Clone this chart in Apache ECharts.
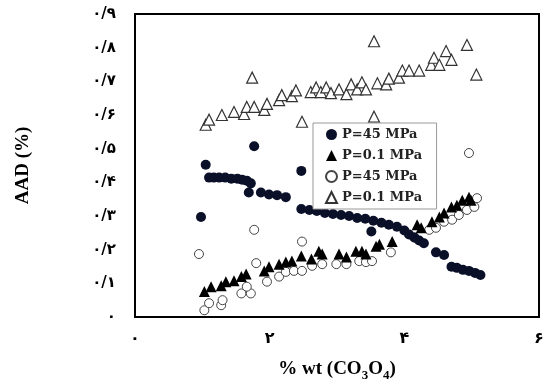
<!DOCTYPE html>
<html>
<head>
<meta charset="utf-8">
<script src="https://cdn.jsdelivr.net/npm/echarts@6/dist/echarts.min.js"></script>
<style>
  html, body { margin: 0; padding: 0; background: #fff; }
  #aad-chart { width: 547px; height: 387px; }
</style>
</head>
<body>
<div id="aad-chart"></div>
<script>
// tick labels (Persian digits, as in the figure)
var xTickLabels = ['۰', '۲', '۴', '۶'];
var yTickLabels = ['۰', '۰/۱', '۰/۲', '۰/۳', '۰/۴', '۰/۵', '۰/۶', '۰/۷', '۰/۸', '۰/۹'];

var legendNames = ['P=45 MPa', 'P=0.1 MPa', 'P=45 MPa ', 'P=0.1 MPa '];

// filled circles, P=45 MPa
var circlesFilled = [
    [1.05, 0.452], [1.77, 0.507], [0.98, 0.297], [2.47, 0.434],
    [1.10, 0.414], [1.17, 0.414], [1.25, 0.414], [1.34, 0.414], [1.43, 0.411],
    [1.52, 0.411], [1.59, 0.408], [1.66, 0.405], [1.72, 0.397], [1.69, 0.370],
    [1.87, 0.370], [1.99, 0.364], [2.11, 0.362], [2.24, 0.356],
    [2.47, 0.321], [2.59, 0.318], [2.70, 0.315], [2.82, 0.309], [2.94, 0.306],
    [3.06, 0.303], [3.18, 0.300], [3.30, 0.294], [3.42, 0.292], [3.54, 0.286],
    [3.66, 0.280], [3.77, 0.274], [3.89, 0.268], [4.00, 0.257], [3.51, 0.254],
    [4.07, 0.245], [4.15, 0.236], [4.22, 0.227], [4.29, 0.219], [4.47, 0.192],
    [4.59, 0.184], [4.70, 0.149], [4.78, 0.146], [4.87, 0.140], [4.96, 0.137],
    [5.05, 0.131], [5.13, 0.125]
];

// filled triangles, P=0.1 MPa
var trianglesFilled = [
    [1.03, 0.076], [1.13, 0.090], [1.28, 0.093], [1.35, 0.105], [1.47, 0.108],
    [1.58, 0.120], [1.65, 0.128], [1.92, 0.137], [1.99, 0.149], [2.14, 0.157],
    [2.24, 0.163], [2.33, 0.166], [2.47, 0.181], [2.62, 0.172], [2.73, 0.195],
    [2.78, 0.187], [3.03, 0.187], [3.14, 0.178], [3.28, 0.195], [3.37, 0.195],
    [3.43, 0.187], [3.58, 0.210], [3.63, 0.216], [3.82, 0.224], [4.19, 0.274],
    [4.25, 0.265], [4.41, 0.283], [4.52, 0.297], [4.59, 0.309], [4.70, 0.327],
    [4.78, 0.332], [4.86, 0.347], [4.96, 0.356], [4.99, 0.347]
];

// open circles, P=45 MPa
var circlesOpen = [
    [0.95, 0.187], [1.77, 0.259], [2.48, 0.224], [4.96, 0.487], [1.80, 0.160],
    [1.03, 0.020], [1.10, 0.041], [1.28, 0.035], [1.30, 0.050], [1.58, 0.070],
    [1.72, 0.070], [1.66, 0.090], [1.96, 0.105], [2.14, 0.120], [2.24, 0.134],
    [2.36, 0.137], [2.48, 0.137], [2.63, 0.152], [2.78, 0.157], [2.99, 0.157],
    [3.14, 0.157], [3.33, 0.166], [3.43, 0.163], [3.52, 0.166], [3.80, 0.192],
    [4.15, 0.236], [4.37, 0.259], [4.47, 0.265], [4.59, 0.283], [4.71, 0.289],
    [4.81, 0.303], [4.93, 0.318], [5.04, 0.327], [5.08, 0.353]
];

// open triangles, P=0.1 MPa
var trianglesOpen = [
    [1.05, 0.571], [1.10, 0.586], [1.29, 0.600], [1.47, 0.609], [1.62, 0.603],
    [1.66, 0.624], [1.77, 0.624], [1.92, 0.615], [1.96, 0.633], [2.14, 0.644],
    [2.18, 0.659], [2.33, 0.656], [2.39, 0.673], [2.61, 0.668], [2.69, 0.682],
    [2.76, 0.668], [2.84, 0.682], [2.91, 0.665], [3.03, 0.676], [3.14, 0.662],
    [3.21, 0.691], [3.30, 0.676], [3.37, 0.697], [3.43, 0.676], [3.60, 0.694],
    [3.73, 0.691], [3.77, 0.708], [3.92, 0.711], [3.97, 0.732], [4.07, 0.732],
    [4.22, 0.732], [4.40, 0.749], [4.44, 0.770], [4.52, 0.749], [4.62, 0.790],
    [4.70, 0.764], [4.93, 0.808], [5.07, 0.720],
    [1.74, 0.711], [3.55, 0.819], [2.48, 0.580], [3.55, 0.595]
];

var aadChart = echarts.init(document.getElementById('aad-chart'));

var option = {
    animation: false,
    backgroundColor: '#fff',
    grid: {
        left: 135, right: 8, top: 14, bottom: 63,
        show: true, borderColor: '#000', borderWidth: 2, backgroundColor: 'transparent'
    },
    legend: {
        data: [legendNames[0], legendNames[1], legendNames[2], legendNames[3]],
        orient: 'vertical',
        left: 313, top: 123,
        itemWidth: 11, itemHeight: 11, itemGap: 8,
        padding: [5, 10, 5, 12],
        backgroundColor: '#fff',
        borderColor: '#999', borderWidth: 1,
        textStyle: { fontFamily: 'DejaVu Serif', fontWeight: 'bold', fontSize: 13, color: '#222' }
    },
    xAxis: {
        type: 'value', min: 0, max: 6, interval: 2,
        name: '{a|% wt (CO}{s|3}{a|O}{s|4}{a|)}',
        nameLocation: 'middle', nameGap: 40,
        nameTextStyle: {
            rich: {
                a: { fontFamily: 'Liberation Serif', fontWeight: 'bold', fontSize: 19, color: '#000', lineHeight: 22, verticalAlign: 'bottom' },
                s: { fontFamily: 'Liberation Serif', fontWeight: 'bold', fontSize: 13, color: '#000', lineHeight: 22, verticalAlign: 'bottom', padding: [0, 0, -3, 0] }
            }
        },
        axisLine: { show: false },
        axisTick: { show: false },
        splitLine: { show: false },
        axisLabel: {
            margin: 14,
            fontFamily: 'DejaVu Sans', fontWeight: 'bold', fontSize: 16, color: '#000',
            formatter: function (v) { return xTickLabels[Math.round(v / 2)]; }
        }
    },
    yAxis: {
        type: 'value', min: 0, max: 0.9, interval: 0.1,
        name: 'AAD (%)',
        nameLocation: 'middle', nameGap: 102,
        nameTextStyle: { fontFamily: 'Liberation Serif', fontWeight: 'bold', fontSize: 19, color: '#000' },
        axisLine: { show: false },
        axisTick: { show: false },
        splitLine: { show: false },
        axisLabel: {
            margin: 19,
            fontFamily: 'DejaVu Sans', fontWeight: 'bold', fontSize: 15, color: '#000',
            formatter: function (v) { return yTickLabels[Math.round(v * 10)]; }
        }
    },
    series: [
        {
            name: legendNames[2], type: 'scatter', data: circlesOpen,
            symbol: 'circle', symbolSize: 9, z: 2,
            itemStyle: { color: '#fff', borderColor: '#444', borderWidth: 1, opacity: 1 }
        },
        {
            name: legendNames[3], type: 'scatter', data: trianglesOpen,
            symbol: 'triangle', symbolSize: 11, z: 2,
            itemStyle: { color: '#fff', borderColor: '#333', borderWidth: 1.2, opacity: 1 }
        },
        {
            name: legendNames[0], type: 'scatter', data: circlesFilled,
            symbol: 'circle', symbolSize: 10, z: 3,
            itemStyle: { color: '#0b1029', opacity: 1 }
        },
        {
            name: legendNames[1], type: 'scatter', data: trianglesFilled,
            symbol: 'triangle', symbolSize: 11, z: 4,
            itemStyle: { color: '#000', opacity: 1 }
        }
    ]
};

aadChart.setOption(option);
</script>
</body>
</html>
